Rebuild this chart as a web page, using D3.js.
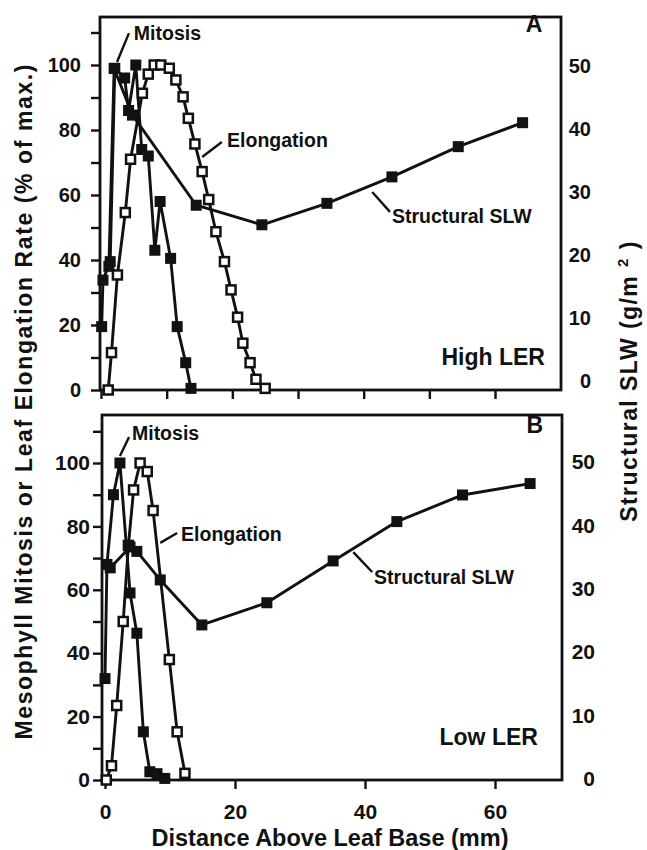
<!DOCTYPE html>
<html>
<head>
<meta charset="utf-8">
<script src="https://cdn.jsdelivr.net/npm/d3@7"></script>
<style>
  body { margin: 0; background: #fff; }
  svg text { font-family: "Liberation Sans", Arial, sans-serif; font-weight: bold; fill: #111; }
</style>
</head>
<body>
<div id="chart"></div>
<script>

// ---- data: [distance mm, value] ----
// Panel A (high LER); mitosis + elongation in % of max, SLW in g/m2
const mitosisA = [[0.1,19.5],[0.3,33.8],[1.4,39.5],[2.1,99],[3.6,96],[4.2,86],[5.3,100],[6.2,74],
  [7.2,72],[8.2,43],[9.0,58],[10.6,40.5],[11.6,19.5],[12.9,8.4],[13.7,0.5]];
const elongationA = [[1.1,0],[1.6,11.5],[2.5,35.4],[3.7,54.6],[4.5,71],[6.3,91.3],[7.2,97.2],[8.1,100],
  [9.1,100],[10.4,99],[11.4,95.4],[12.5,90.2],[13.3,83.6],[14.3,75.7],[15.4,67.2],[16.4,58.6],
  [17.5,48.7],[18.8,39.5],[19.8,30.8],[20.8,22.4],[21.6,14.4],[22.7,8.4],[23.6,3.3],[25,0.5]];
const slwA = [[1.2,18.2],[2.0,49.6],[4.8,42.2],[14.5,27.9],[24.5,24.8],[34.4,28.2],[44.3,32.4],
  [54.4,37.2],[64.2,41.0]];

// Panel B (low LER)
const mitosisB = [[0,32],[0.3,68],[1.3,90],[2.3,100],[3.85,59],[4.9,46.3],[5.9,15.2],[6.9,2.6],
  [8.0,2],[9.2,0.5]];
const elongationB = [[0.2,0],[1.0,4.5],[1.8,23.5],[2.8,50],[3.6,74],[4.4,91.5],[5.4,100],[6.5,97.3],
  [7.4,85],[9.9,38],[11.1,15.2],[12.3,2.1]];
const slwB = [[0.8,33.3],[3.85,36.6],[4.9,35.9],[8.5,31.4],[14.9,24.3],[24.9,27.8],[35.1,34.4],
  [44.9,40.6],[55,44.8],[65.4,46.6]];

const leftTicks = d3.range(0, 111, 10);
const rightTicks = [0, 10, 20, 30, 40, 50];
const xTicksA = [0, 10, 20, 30, 40, 50, 60];
const xTicksB = [0, 20, 40, 60];

const xTitle = "Distance Above Leaf Base (mm)";
const yTitle = "Mesophyll Mitosis or Leaf  Elongation Rate (% of max.)";

let width = 647, height = 850;

let svg = d3.select("#chart").append("svg")
  .attr("width", width)
  .attr("height", height);

let panels = [
  { // A
    box: {left:100, right:561, top:17, bottom:390},
    x: d3.scaleLinear([0,70],[101,560.7]),
    yL: d3.scaleLinear([0,115],[390,16.25]),
    yR: d3.scaleLinear([0,50],[381,66]),
    xTicks: xTicksA, xLabels: false,
    leftPad: 10, tickFont: 20, rightLabelX: 591,
    mitosis: mitosisA, elongation: elongationA, slw: slwA,
    letter: "A", ler: "High LER",
    notes: {
      letter:[67.2,110.2], ler:[67.6,7.7],
      mitosis:{text:[5.0,107.7], line:[[4.26,109.8],[2.44,100.9]]},
      elong:{text:[19.2,74.8], line:[[18.4,76.3],[15.4,71.7]]},
      slw:{text:[44.3,51.4], line:[[44.0,54.8],[41.3,60.9]]}
    }
  },
  { // B
    box: {left:102, right:562, top:415, bottom:780},
    x: d3.scaleLinear([0,70],[105,560]),
    yL: d3.scaleLinear([0,115],[780,415.45]),
    yR: d3.scaleLinear([0,50],[779,462]),
    xTicks: xTicksB, xLabels: true,
    leftPad: 3, tickFont: 21, rightLabelX: 595,
    mitosis: mitosisB, elongation: elongationB, slw: slwB,
    letter: "B", ler: "Low LER",
    notes: {
      letter:[67.4,109.5], ler:[66.6,11],
      mitosis:{text:[4.15,107.3], line:[[3.7,108.2],[2.3,102.2]]},
      elong:{text:[11.7,75.4], line:[[11.1,77.9],[8.5,74.8]]},
      slw:{text:[41.4,61.8], line:[[41.1,65.6],[38.2,71.9]]}
    }
  }
];

function drawPanel(p)
{
  let g = svg.append("g").classed("panel", true);
  let b = p.box;

  // left axis
  let left = g.append("g")
    .attr("transform", "translate(" + b.left + ",0)")
    .call(d3.axisLeft(p.yL)
      .tickValues(leftTicks)
      .tickSize(9)
      .tickPadding(p.leftPad)
      .tickFormat(d => (d % 20 === 0 && d <= 100) ? d : ""));
  left.select(".domain").remove();
  left.selectAll("line").attr("stroke", "#111").attr("stroke-width", 2.4);
  left.selectAll("text").attr("font-size", p.tickFont).attr("fill", "#111");

  // right axis: labels only
  let right = g.append("g")
    .attr("transform", "translate(" + p.rightLabelX + ",0)")
    .call(d3.axisRight(p.yR).tickValues(rightTicks).tickSize(0).tickPadding(0));
  right.select(".domain").remove();
  right.selectAll("text")
    .attr("text-anchor", "end")
    .attr("font-size", p.tickFont)
    .attr("fill", "#111");

  // bottom axis
  let bottom = g.append("g")
    .attr("transform", "translate(0," + b.bottom + ")")
    .call(d3.axisBottom(p.x)
      .tickValues(p.xTicks)
      .tickSize(9)
      .tickPadding(15)
      .tickFormat(p.xLabels ? d3.format("d") : () => ""));
  bottom.select(".domain").remove();
  bottom.selectAll("line").attr("stroke", "#111").attr("stroke-width", 2.4);
  bottom.selectAll("text").attr("font-size", 21).attr("fill", "#111");

  // frame
  g.append("rect")
    .attr("x", b.left).attr("y", b.top)
    .attr("width", b.right - b.left).attr("height", b.bottom - b.top)
    .attr("fill", "none").attr("stroke", "#111").attr("stroke-width", 2.8);

  let lineL = d3.line().x(d => p.x(d[0])).y(d => p.yL(d[1]));
  let lineR = d3.line().x(d => p.x(d[0])).y(d => p.yR(d[1]));

  let lines = g.append("g").attr("fill", "none").attr("stroke", "#111").attr("stroke-width", 2.9)
    .attr("stroke-linejoin", "round");
  lines.append("path").attr("d", lineL(p.elongation));
  lines.append("path").attr("d", lineL(p.mitosis));
  lines.append("path").attr("d", lineR(p.slw));

  // open squares: elongation
  g.append("g").selectAll("rect")
    .data(p.elongation)
    .enter()
    .append("rect")
    .attr("x", d => p.x(d[0]) - 4.5)
    .attr("y", d => p.yL(d[1]) - 4.5)
    .attr("width", 9).attr("height", 9)
    .attr("fill", "#fff").attr("stroke", "#111").attr("stroke-width", 2.5);

  // filled squares: mitosis and SLW
  g.append("g").selectAll("rect")
    .data(p.mitosis)
    .enter()
    .append("rect")
    .attr("x", d => p.x(d[0]) - 5.5)
    .attr("y", d => p.yL(d[1]) - 5.5)
    .attr("width", 11).attr("height", 11)
    .attr("fill", "#111");

  g.append("g").selectAll("rect")
    .data(p.slw)
    .enter()
    .append("rect")
    .attr("x", d => p.x(d[0]) - 5.5)
    .attr("y", d => p.yR(d[1]) - 5.5)
    .attr("width", 11).attr("height", 11)
    .attr("fill", "#111");

  // annotations
  let n = p.notes;
  let notes = g.append("g");
  [["Mitosis", n.mitosis], ["Elongation", n.elong], ["Structural SLW", n.slw]].forEach(a => {
    notes.append("text")
      .attr("x", p.x(a[1].text[0]))
      .attr("y", p.yL(a[1].text[1]))
      .attr("font-size", 19.5)
      .text(a[0]);
    notes.append("path")
      .attr("d", lineL(a[1].line))
      .attr("stroke", "#111").attr("stroke-width", 2.4).attr("fill", "none");
  });

  notes.append("text")
    .attr("x", p.x(n.letter[0])).attr("y", p.yL(n.letter[1]))
    .attr("text-anchor", "end").attr("font-size", 23)
    .text(p.letter);

  notes.append("text")
    .attr("x", p.x(n.ler[0])).attr("y", p.yL(n.ler[1]))
    .attr("text-anchor", "end").attr("font-size", 23)
    .text(p.ler);
}

panels.forEach(drawPanel);

// axis titles
svg.append("text")
  .attr("x", 330).attr("y", 846)
  .attr("text-anchor", "middle")
  .attr("font-size", 23.5)
  .text(xTitle);

svg.append("text")
  .attr("transform", "translate(32,402) rotate(-90)")
  .attr("text-anchor", "middle")
  .attr("font-size", 23)
  .attr("textLength", 675)
  .attr("lengthAdjust", "spacing")
  .text(yTitle);

let rTitle = svg.append("text")
  .attr("transform", "translate(637,381) rotate(-90)")
  .attr("text-anchor", "middle")
  .attr("font-size", 23);
rTitle.append("tspan").text("Structural SLW  (g/m ");
rTitle.append("tspan").attr("font-size", 15).attr("dy", -9).text("2");
rTitle.append("tspan").attr("dy", 9).text(" )");

// stretch the right title to the span it has in the figure
let natural = rTitle.node().getComputedTextLength();
let nChars = rTitle.text().length;
rTitle.attr("letter-spacing", ((283 - natural) / nChars).toFixed(2));

</script>
</body>
</html>
